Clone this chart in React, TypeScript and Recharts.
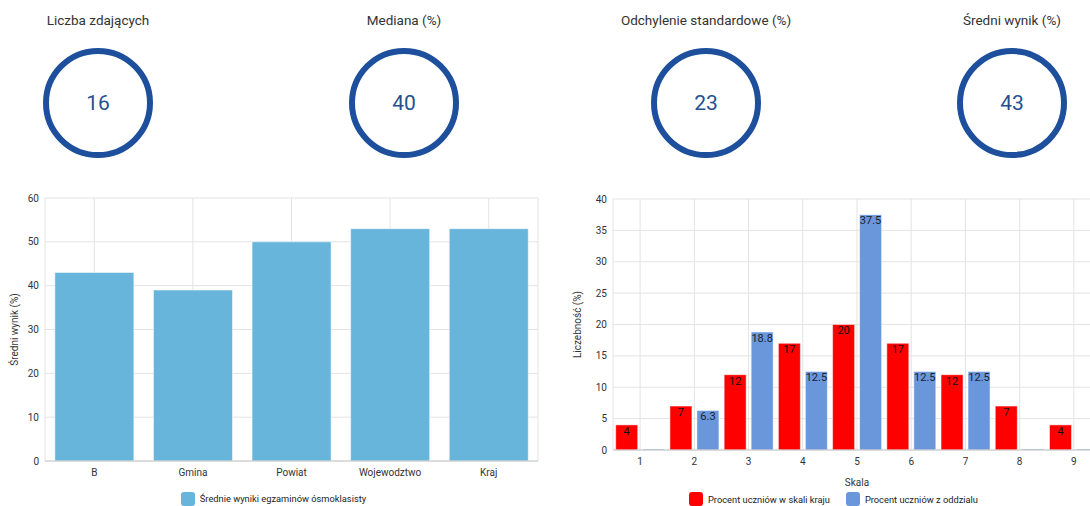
import { BarChart, Bar, XAxis, YAxis, CartesianGrid, Legend, LabelList } from "recharts";

const statTitles = ["Liczba zdających", "Mediana (%)", "Odchylenie standardowe (%)", "Średni wynik (%)"];
const statValues = [16, 40, 23, 43];

const levels = ["B", "Gmina", "Powiat", "Wojewodztwo", "Kraj"];
const avgScores = [43, 39, 50, 53, 53];

const scale = ["1", "2", "3", "4", "5", "6", "7", "8", "9"];
const countryPct = [4, 7, 12, 17, 20, 17, 12, 7, 4];
const classPct = [0, 6.3, 18.8, 12.5, 37.5, 12.5, 12.5, 0, 0];

const FONT = "Roboto, 'Noto Sans', sans-serif";
const DARK_BLUE = "#1d4f9c";
const LIGHT_BLUE = "#67b5db";
const RED = "#ff0000";
const BLUE = "#6a96dc";
const GRID = "#e3e3e3";
const TICK = { fill: "#333", fontSize: 10, fontFamily: FONT };

const statCenters = [98, 404, 706, 1012];

function StatCard({ title, value, cx }: { title: string; value: number; cx: number }) {
  return (
    <>
      <div style={{ position: "absolute", left: cx - 120, width: 240, top: 12, textAlign: "center", fontSize: 13.5, color: "#333" }}>
        {title}
      </div>
      <div
        style={{
          position: "absolute",
          left: cx - 55,
          top: 48,
          width: 110,
          height: 110,
          boxSizing: "border-box",
          border: `6px solid ${DARK_BLUE}`,
          borderRadius: "50%",
          display: "flex",
          alignItems: "center",
          justifyContent: "center",
          fontSize: 21,
          color: "#24508f",
        }}
      >
        {value}
      </div>
    </>
  );
}

function SwatchLegend({ items, height, pad, shift }: { items: { label: string; color: string }[]; height: number; pad: number; shift: number }) {
  return (
    <div style={{ height, paddingTop: pad, paddingLeft: shift, boxSizing: "border-box", display: "flex", justifyContent: "center", gap: 16 }}>
      {items.map((it) => (
        <div key={it.label} style={{ display: "flex", alignItems: "center", gap: 5 }}>
          <span style={{ width: 14, height: 14, borderRadius: 3, background: it.color, display: "inline-block" }} />
          <span style={{ fontSize: 9.3, color: "#222", fontFamily: FONT }}>{it.label}</span>
        </div>
      ))}
    </div>
  );
}

const hideZero = (v: any) => (Number(v) === 0 ? "" : v);

export default function App() {
  const avgData = levels.map((name, i) => ({ name, value: avgScores[i] }));
  const distData = scale.map((name, i) => ({ name, kraj: countryPct[i], oddzial: classPct[i] }));

  return (
    <div style={{ position: "absolute", left: 0, top: 0, width: 1090, height: 506, overflow: "hidden", background: "#fff", fontFamily: FONT }}>
      {statTitles.map((t, i) => (
        <StatCard key={t} title={t} value={statValues[i]} cx={statCenters[i]} />
      ))}

      <div style={{ position: "absolute", left: 0, top: 190 }}>
        <BarChart width={545} height={316} data={avgData} margin={{ top: 8, right: 7, left: 0, bottom: 0 }} barCategoryGap="10%">
          <CartesianGrid stroke={GRID} />
          <XAxis dataKey="name" tick={TICK} tickLine={false} axisLine={{ stroke: "#c8c8c8" }} height={27} />
          <YAxis
            domain={[0, 60]}
            ticks={[0, 10, 20, 30, 40, 50, 60]}
            tick={TICK}
            tickLine={false}
            axisLine={false}
            tickMargin={0}
            width={45}
            label={{ value: "Średni wynik (%)", angle: -90, position: "center", dx: -8, fontSize: 10, fill: "#333", fontFamily: FONT }}
          />
          <Legend
            verticalAlign="bottom"
            content={() => (
              <SwatchLegend height={18} pad={3} shift={9} items={[{ label: "Średnie wyniki egzaminów ósmoklasisty", color: LIGHT_BLUE }]} />
            )}
          />
          <Bar dataKey="value" fill={LIGHT_BLUE} stroke="#ffffff" strokeOpacity={0.5} isAnimationActive={false} />
        </BarChart>
      </div>

      <div style={{ position: "absolute", left: 560, top: 190 }}>
        <BarChart width={577} height={316} data={distData} margin={{ top: 9, right: 36, left: 0, bottom: 0 }} barCategoryGap="5%" barGap={5}>
          <CartesianGrid stroke={GRID} />
          <XAxis
            dataKey="name"
            tick={TICK}
            tickLine={false}
            axisLine={{ stroke: "#c8c8c8" }}
            height={38}
            label={{ value: "Skala", position: "insideBottom", offset: 2, fontSize: 10, fill: "#333", fontFamily: FONT }}
          />
          <YAxis
            domain={[0, 40]}
            ticks={[0, 5, 10, 15, 20, 25, 30, 35, 40]}
            tick={TICK}
            tickLine={false}
            axisLine={false}
            tickMargin={0}
            width={53}
            label={{ value: "Liczebność (%)", angle: -90, position: "center", dx: -9, fontSize: 10, fill: "#333", fontFamily: FONT }}
          />
          <Legend
            verticalAlign="bottom"
            content={() => (
              <SwatchLegend
                height={18}
                pad={4}
                shift={6}
                items={[
                  { label: "Procent uczniów w skali kraju", color: RED },
                  { label: "Procent uczniów z oddzialu", color: BLUE },
                ]}
              />
            )}
          />
          <Bar dataKey="kraj" fill={RED} stroke="#ffffff" strokeOpacity={0.5} isAnimationActive={false}>
            <LabelList dataKey="kraj" position="insideTop" offset={2} fill="#111" fontSize={11} fontFamily={FONT} formatter={hideZero} />
          </Bar>
          <Bar dataKey="oddzial" fill={BLUE} stroke="#ffffff" strokeOpacity={0.5} minPointSize={1} isAnimationActive={false}>
            <LabelList dataKey="oddzial" position="insideTop" offset={2} fill="#1a1f2e" fontSize={11} fontFamily={FONT} formatter={hideZero} />
          </Bar>
        </BarChart>
      </div>
    </div>
  );
}
